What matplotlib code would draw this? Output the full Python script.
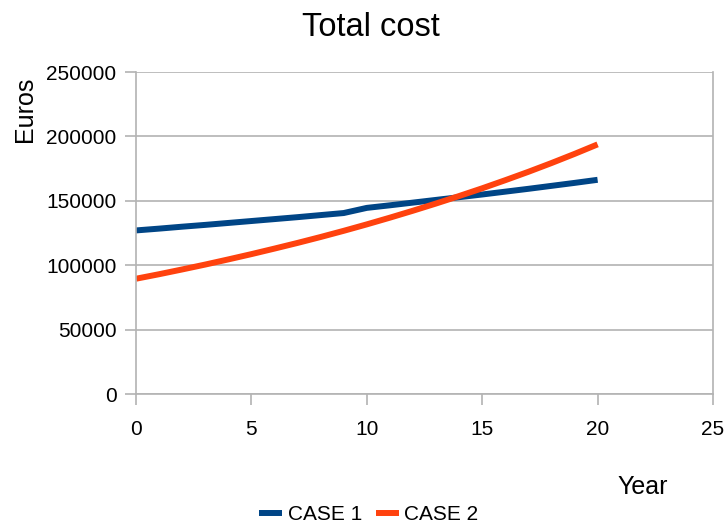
import matplotlib
matplotlib.use("Agg")
from matplotlib import pyplot as plt

# data
years = list(range(0, 21))
case1 = [127000, 128400, 129900, 131300, 132800, 134300, 135800, 137300, 138900, 140500,
         144500, 146500, 148600, 150700, 152800, 154900, 157100, 159300, 161600, 163900, 166300]
case2 = [89500, 93000, 96700, 100500, 104500, 108600, 112900, 117300, 121900, 126700,
         131700, 136900, 142300, 147900, 153700, 159700, 166000, 172500, 179300, 186400, 193800]
x_ticks = [0, 5, 10, 15, 20, 25]
y_ticks = [0, 50000, 100000, 150000, 200000, 250000]

plt.rcParams['font.family'] = ['Liberation Sans', 'DejaVu Sans']
grey = "#b3b3b3"

fig = plt.figure(figsize=(7.28, 5.28), dpi=100)
ax = fig.add_axes([136 / 728, 1 - 394 / 528, (713 - 136) / 728, (394 - 72) / 528])

ax.plot(years, case1, color="#004586", lw=4.3, label="CASE 1", solid_capstyle="butt")
ax.plot(years, case2, color="#ff420e", lw=4.3, label="CASE 2", solid_capstyle="butt")

ax.set_xlim(0, 25)
ax.set_ylim(0, 250000)
ax.set_xticks(x_ticks)
ax.set_yticks(y_ticks)
ax.set_yticklabels([str(v) for v in y_ticks])
ax.tick_params(labelsize=15, color=grey, length=8, width=1.2)
ax.tick_params(axis="y", pad=6)
ax.tick_params(axis="x", pad=11)
ax.grid(axis="y", color=grey, lw=1.2)
ax.set_axisbelow(True)
for s in ax.spines.values():
    s.set_color(grey)
    s.set_linewidth(1.2)
ax.spines["top"].set_visible(False)

fig.text(371 / 728, 1 - 28 / 528, "Total cost", fontsize=23.5, ha="center", va="center")
fig.text(25 / 728, 1 - 109 / 528, "Euros", fontsize=18, rotation=90, ha="center", va="center")
fig.text(643 / 728, 1 - 487 / 528, "Year", fontsize=18, ha="center", va="center")

fig.legend(loc="center", bbox_to_anchor=(369 / 728, 1 - 515 / 528), ncol=2, frameon=False,
           fontsize=15, handlelength=1.1, handletextpad=0.25, columnspacing=0.7)

fig.savefig("out.png", dpi=100)
